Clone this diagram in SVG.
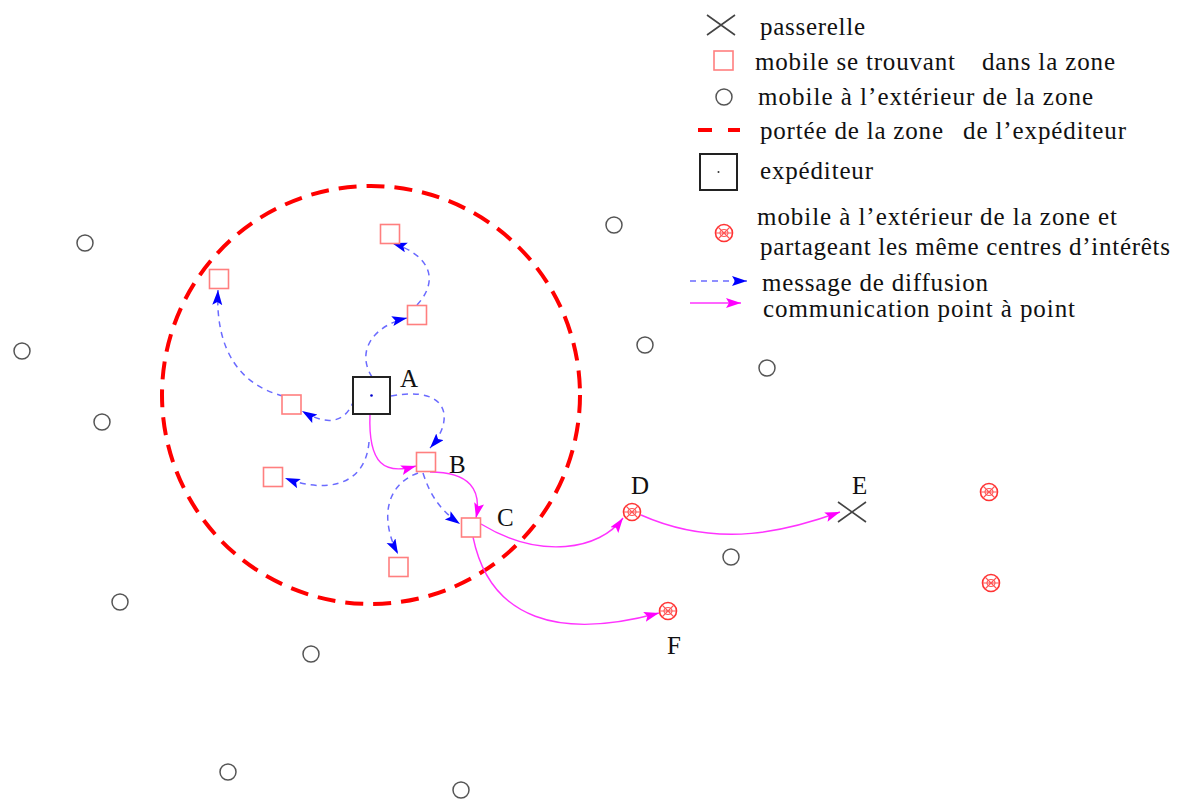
<svg xmlns="http://www.w3.org/2000/svg" width="1178" height="801" viewBox="0 0 1178 801">
<style>
text{font-family:"Liberation Serif","Times New Roman",serif;font-size:25px;fill:#111}
.sq{fill:#fff;stroke:#ff7f7f;stroke-width:1.6}
.ci{fill:#fff;stroke:#555;stroke-width:1.5}
.bl{fill:none;stroke:#6b6bff;stroke-width:1.5;stroke-dasharray:6 5}
.mg{fill:none;stroke:#ff33ff;stroke-width:1.4}
.cr{stroke:#444;stroke-width:1.6;fill:none}
</style>
<defs>
<marker id="ab" markerUnits="userSpaceOnUse" markerWidth="16" markerHeight="12" refX="15" refY="5" orient="auto"><path d="M0,0 L15,5 L0,10 L3,5 Z" fill="#0000ff"/></marker>
<marker id="am" markerUnits="userSpaceOnUse" markerWidth="16" markerHeight="12" refX="15" refY="5" orient="auto"><path d="M0,0 L15,5 L0,10 L3,5 Z" fill="#ff00ff"/></marker>
<g id="hc"><circle r="8.5" fill="#fff" stroke="#ff3333" stroke-width="1.6"/><path d="M-6,-6 L6,6 M6,-6 L-6,6 M-8,0 L8,0" stroke="#ff5555" stroke-width="1.1"/><ellipse rx="4" ry="3.5" fill="none" stroke="#ff5555" stroke-width="1.1"/></g>
</defs>
<circle id="zone" cx="371" cy="395" r="209" fill="none" stroke="#ff0000" stroke-width="4" stroke-dasharray="18 10"/>
<g id="connectors">
<path class="bl" d="M372,377 C355,350 375,325 407,318" marker-end="url(#ab)"/>
<path class="bl" d="M417,305 C440,280 430,255 392,243" marker-end="url(#ab)"/>
<path class="bl" d="M283,396 C240,385 215,350 218,290" marker-end="url(#ab)"/>
<path class="bl" d="M354,400 C345,425 325,425 302,411" marker-end="url(#ab)"/>
<path class="bl" d="M369,442 C365,490 320,492 285,478" marker-end="url(#ab)"/>
<path class="bl" d="M391,396 C450,385 455,420 430,448" marker-end="url(#ab)"/>
<path class="bl" d="M418,473 C385,485 380,520 398,554" marker-end="url(#ab)"/>
<path class="bl" d="M423,473 C430,495 440,510 460,524" marker-end="url(#ab)"/>
<path class="mg" d="M370,414 C368,465 385,475 416,466" marker-end="url(#am)"/>
<path class="mg" d="M430,472 C470,472 482,490 476,518" marker-end="url(#am)"/>
<path class="mg" d="M481,524 C540,560 600,550 623,518" marker-end="url(#am)"/>
<path class="mg" d="M641,515 C720,550 790,530 840,512" marker-end="url(#am)"/>
<path class="mg" d="M473,537 C490,620 560,640 659,613" marker-end="url(#am)"/>
</g>
<g id="sender-A"><rect x="353" y="377" width="37" height="37" fill="#fff" stroke="#222" stroke-width="2"/><circle cx="371.5" cy="395.5" r="1.3" fill="#0000cc"/><text x="400" y="387">A</text></g>
<g id="m1"><rect class="sq" x="380.5" y="224.5" width="19" height="19"/></g>
<g id="m2"><rect class="sq" x="209.5" y="269.5" width="19" height="19"/></g>
<g id="m3"><rect class="sq" x="407.5" y="305.5" width="19" height="19"/></g>
<g id="m4"><rect class="sq" x="282" y="395" width="19" height="19"/></g>
<g id="m5"><rect class="sq" x="263.5" y="467.5" width="19" height="19"/></g>
<g id="node-B"><rect class="sq" x="416.5" y="452.5" width="19" height="19"/><text x="449" y="473">B</text></g>
<g id="node-C"><rect class="sq" x="461.5" y="518" width="19" height="19"/><text x="497" y="526">C</text></g>
<g id="m8"><rect class="sq" x="389" y="557.5" width="19" height="19"/></g>
<g id="node-D"><use href="#hc" x="632" y="512"/><text x="631" y="494">D</text></g>
<g id="node-E"><path class="cr" d="M838,502 L866,522 M866,502 L838,522"/><text x="852" y="494">E</text></g>
<g id="node-F"><use href="#hc" x="668" y="611"/><text x="667" y="654">F</text></g>
<g id="h3"><use href="#hc" x="989" y="492"/></g>
<g id="h4"><use href="#hc" x="991" y="583"/></g>
<g id="outside">
<circle class="ci" cx="85" cy="243" r="8"/>
<circle class="ci" cx="22" cy="351" r="8"/>
<circle class="ci" cx="102" cy="422" r="8"/>
<circle class="ci" cx="614" cy="225" r="8"/>
<circle class="ci" cx="645" cy="345" r="8"/>
<circle class="ci" cx="767" cy="368" r="8"/>
<circle class="ci" cx="731" cy="557" r="8"/>
<circle class="ci" cx="120" cy="602" r="8"/>
<circle class="ci" cx="311" cy="654" r="8"/>
<circle class="ci" cx="228" cy="772" r="8"/>
<circle class="ci" cx="461" cy="790" r="8"/>
</g>
<g id="legend">
<path class="cr" d="M707,15 L735,35 M735,15 L707,35"/>
<text x="760" y="35" textLength="105">passerelle</text>
<rect class="sq" x="714" y="51" width="19" height="19"/>
<text x="755" y="70" textLength="200">mobile se trouvant</text>
<text x="982" y="70" textLength="133">dans la zone</text>
<circle class="ci" cx="724" cy="97" r="8"/>
<text x="758" y="105" textLength="335">mobile  à l’extérieur de la zone</text>
<path d="M698,130 L712,130 M728,130 L740,130" stroke="#ff0000" stroke-width="4"/>
<text x="760" y="139" textLength="183">portée de la zone</text>
<text x="963" y="139" textLength="163">de l’expéditeur</text>
<rect x="700" y="154" width="37" height="36" fill="#fff" stroke="#222" stroke-width="2"/>
<circle cx="718.5" cy="172" r="1" fill="#333"/>
<text x="760" y="179" textLength="113">expéditeur</text>
<use href="#hc" x="724" y="233"/>
<text x="757" y="225" textLength="360">mobile  à l’extérieur de la zone et</text>
<text x="760" y="255" textLength="410">partageant les même centres d’intérêts</text>
<path class="bl" d="M690,281 L747,281" marker-end="url(#ab)"/>
<text x="762" y="291" textLength="226">message de diffusion</text>
<path class="mg" d="M690,303 L741,303" marker-end="url(#am)"/>
<text x="763" y="317" textLength="312">communication point à point</text>
</g>
</svg>
